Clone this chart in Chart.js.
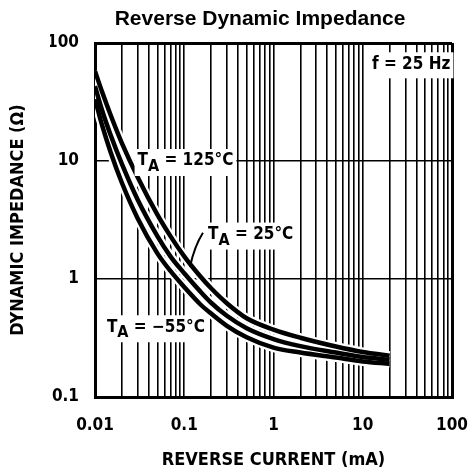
<!DOCTYPE html>
<html>
<head>
<meta charset="utf-8">
<script src="https://cdn.jsdelivr.net/npm/chart.js@4.4.1/dist/chart.umd.min.js"></script>
<style>
  body { margin: 0; background: #fff; }
  #wrap { width: 470px; height: 475px; }
</style>
</head>
<body>
<div id="wrap"><canvas id="impChart" width="470" height="475"></canvas></div>
<script>
// reverse current, mA
const current = [0.01, 0.012, 0.015, 0.02, 0.03, 0.05, 0.07, 0.1, 0.15, 0.2, 0.3, 0.5, 1, 2, 5, 10, 20];
// dynamic impedance, ohm
const z125 = [57.7, 38.6, 24.4, 14.2, 7.33, 3.51, 2.31, 1.556, 1.06, 0.834, 0.623, 0.465, 0.373, 0.318, 0.268, 0.241, 0.224];
const z25 = [43, 26.9, 16.5, 9.45, 4.72, 2.31, 1.556, 1.118, 0.789, 0.629, 0.488, 0.383, 0.31, 0.27, 0.238, 0.218, 0.207];
const zm55 = [33.4, 20.1, 11.8, 6.54, 3.28, 1.65, 1.17, 0.854, 0.614, 0.509, 0.401, 0.321, 0.262, 0.238, 0.216, 0.2, 0.191];

const xDecades = [0.01, 0.1, 1, 10, 100];
const yDecades = [0.1, 1, 10, 100];

// curve labels (data coords of left / middle of text)
const notes = [
  { main: 'T', sub: 'A', rest: ' = 125°C', x: 0.030, y: 10 },
  { main: 'T', sub: 'A', rest: ' = 25°C', x: 0.185, y: 2.38 },
  { main: 'T', sub: 'A', rest: ' = \u221255°C', x: 0.0136, y: 0.39 },
  { main: 'f = 25 Hz', sub: '', rest: '', x: 12.7, y: 66 }
];
const leader = [[0.162, 2.47], [0.13, 1.9], [0.116, 1.27]];

const narrow = "'Liberation Sans Narrow', 'DejaVu Sans Condensed', 'Arial Narrow', sans-serif";

// every 1..9 multiple per decade for the vertical rulings
let xGrid = [];
for (let i = 0; i < xDecades.length - 1; i++) {
  for (let m = 1; m < 10; m++) xGrid.push(xDecades[i] * m);
}
xGrid.push(xDecades[xDecades.length - 1]);

const toPts = arr => arr.map((v, i) => ({ x: current[i], y: v }));
const curves = [z125, z25, zm55];

const notePlugin = {
  id: 'notes',
  afterDatasetsDraw(chart) {
    const { ctx } = chart;
    const xs = chart.scales.x, ys = chart.scales.y;
    ctx.save();

    // leader line to the 25 C curve
    ctx.strokeStyle = '#000';
    ctx.lineWidth = 2;
    ctx.beginPath();
    ctx.moveTo(xs.getPixelForValue(leader[0][0]), ys.getPixelForValue(leader[0][1]));
    ctx.quadraticCurveTo(
      xs.getPixelForValue(leader[1][0]), ys.getPixelForValue(leader[1][1]),
      xs.getPixelForValue(leader[2][0]), ys.getPixelForValue(leader[2][1]));
    ctx.stroke();

    notes.forEach(n => {
      const px = xs.getPixelForValue(n.x);
      const py = ys.getPixelForValue(n.y);
      ctx.font = 'bold 17px ' + narrow;
      const w1 = ctx.measureText(n.main).width;
      const w3 = ctx.measureText(n.rest).width;
      ctx.font = 'bold 16px ' + narrow;
      const w2 = ctx.measureText(n.sub).width;
      const w = w1 + w2 + w3;

      ctx.fillStyle = '#fff';
      ctx.fillRect(px - 3, py - 12, w + 6, n.sub ? 27 : 26);

      ctx.fillStyle = '#000';
      ctx.textBaseline = 'middle';
      ctx.textAlign = 'left';
      ctx.font = 'bold 17px ' + narrow;
      ctx.fillText(n.main, px, py);
      ctx.font = 'bold 16px ' + narrow;
      ctx.fillText(n.sub, px + w1, py + 6);
      ctx.font = 'bold 17px ' + narrow;
      ctx.fillText(n.rest, px + w1 + w2, py);
    });
    ctx.restore();
  }
};

const isEdgeX = v => v === xDecades[0] || v === xDecades[xDecades.length - 1];
const isEdgeY = v => v === yDecades[0] || v === yDecades[yDecades.length - 1];

new Chart(document.getElementById('impChart'), {
  type: 'line',
  data: {
    datasets: [
      ...curves.map(c => ({
        data: toPts(c),
        borderColor: '#000',
        borderWidth: 4.5,
        pointRadius: 0,
        cubicInterpolationMode: 'monotone',
        fill: false
      })),
      // white halo under each curve
      ...curves.map(c => ({
        data: toPts(c),
        borderColor: '#fff',
        borderWidth: 9,
        pointRadius: 0,
        cubicInterpolationMode: 'monotone',
        fill: false
      }))
    ]
  },
  options: {
    responsive: false,
    animation: false,
    devicePixelRatio: 1,
    layout: { padding: { left: 50, right: 0, top: 0, bottom: 0 } },
    plugins: {
      legend: { display: false },
      tooltip: { enabled: false },
      title: {
        display: true,
        text: 'Reverse Dynamic Impedance',
        color: '#000',
        font: { family: "'Liberation Sans', Arial, sans-serif", size: 21, weight: 'bold' },
        padding: { top: 6.4, bottom: 11.4 }
      }
    },
    scales: {
      x: {
        type: 'logarithmic',
        min: 0.01,
        max: 100,
        afterBuildTicks: s => { s.ticks = xGrid.map(v => ({ value: v })); },
        afterFit: s => { s.height = 78; s.paddingRight = 18; },
        grid: {
          color: '#000',
          lineWidth: c => (c.tick && isEdgeX(c.tick.value)) ? 3 : 1.6,
          drawTicks: false
        },
        border: { color: '#000', width: 3 },
        ticks: {
          autoSkip: false,
          maxRotation: 0,
          padding: 18,
          color: '#000',
          font: { family: narrow, size: 17, weight: 'bold' },
          callback: v => xDecades.includes(v) ? String(v) : ''
        },
        title: {
          display: true,
          text: 'REVERSE CURRENT (mA)',
          color: '#000',
          font: { family: narrow, size: 18, weight: 'bold' },
          padding: { top: 0, bottom: 4 }
        }
      },
      y: {
        type: 'logarithmic',
        min: 0.1,
        max: 100,
        afterBuildTicks: s => { s.ticks = yDecades.map(v => ({ value: v })); },
        afterFit: s => { s.width = 45; },
        grid: {
          color: '#000',
          lineWidth: c => (c.tick && isEdgeY(c.tick.value)) ? 3 : 1.5,
          drawTicks: false
        },
        border: { color: '#000', width: 3 },
        ticks: {
          autoSkip: false,
          padding: 16,
          color: '#000',
          font: { family: narrow, size: 17, weight: 'bold' },
          callback: v => yDecades.includes(v) ? String(v) : ''
        },
        title: {
          display: true,
          text: 'DYNAMIC IMPEDANCE (\u03A9)',
          color: '#000',
          font: { family: narrow, size: 18, weight: 'bold' },
          padding: { top: -42.3, bottom: 0 }
        }
      }
    }
  },
  plugins: [notePlugin]
});
</script>
</body>
</html>
